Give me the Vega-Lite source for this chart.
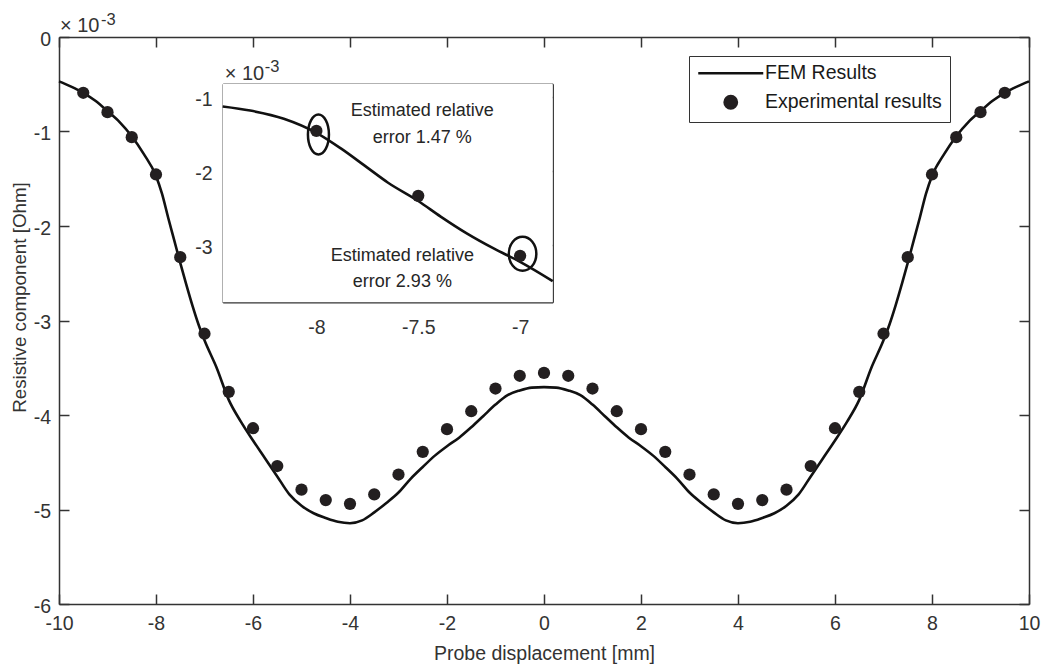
{
  "$schema": "https://vega.github.io/schema/vega-lite/v6.json",
  "width": 970,
  "height": 567,
  "autosize": {"type": "none"},
  "padding": {"left": 59, "top": 37, "right": 15, "bottom": 62},
  "background": "white",
  "config": {
    "font": "Liberation Sans",
    "view": {"stroke": null},
    "axis": {
      "grid": false,
      "domainColor": "#333333",
      "domainWidth": 1.5,
      "tickColor": "#333333",
      "tickWidth": 1.5,
      "tickSize": -10,
      "labelFont": "Liberation Sans",
      "labelFontSize": 19.5,
      "labelColor": "#333333",
      "labelFlush": false,
      "labelOverlap": false,
      "labelBound": false,
      "titleFont": "Liberation Sans",
      "titleFontSize": 19.5,
      "titleFontWeight": "normal",
      "titleColor": "#333333"
    }
  },
  "datasets": {
    "fem": [
      {"x": -10, "y": -0.47}, {"x": -9.75, "y": -0.525}, {"x": -9.5, "y": -0.59}, {"x": -9.25, "y": -0.675},
      {"x": -9, "y": -0.785}, {"x": -8.75, "y": -0.9}, {"x": -8.5, "y": -1.05}, {"x": -8.25, "y": -1.24},
      {"x": -8, "y": -1.47}, {"x": -7.875, "y": -1.66}, {"x": -7.75, "y": -1.91}, {"x": -7.625, "y": -2.15},
      {"x": -7.5, "y": -2.39}, {"x": -7.375, "y": -2.62}, {"x": -7.25, "y": -2.84}, {"x": -7.125, "y": -3.04},
      {"x": -7, "y": -3.21}, {"x": -6.75, "y": -3.5}, {"x": -6.5, "y": -3.84}, {"x": -6.25, "y": -4.07},
      {"x": -6, "y": -4.27}, {"x": -5.75, "y": -4.46}, {"x": -5.5, "y": -4.65}, {"x": -5.25, "y": -4.84},
      {"x": -5, "y": -4.96}, {"x": -4.75, "y": -5.04}, {"x": -4.5, "y": -5.09}, {"x": -4.25, "y": -5.13},
      {"x": -4, "y": -5.145}, {"x": -3.75, "y": -5.115}, {"x": -3.5, "y": -5.03}, {"x": -3.25, "y": -4.93},
      {"x": -3, "y": -4.82}, {"x": -2.75, "y": -4.675}, {"x": -2.5, "y": -4.55}, {"x": -2.25, "y": -4.43},
      {"x": -2, "y": -4.33}, {"x": -1.75, "y": -4.24}, {"x": -1.5, "y": -4.13}, {"x": -1.25, "y": -4.01},
      {"x": -1, "y": -3.89}, {"x": -0.75, "y": -3.79}, {"x": -0.5, "y": -3.74}, {"x": -0.25, "y": -3.71},
      {"x": 0, "y": -3.705},
      {"x": 0.25, "y": -3.71}, {"x": 0.5, "y": -3.74}, {"x": 0.75, "y": -3.79}, {"x": 1, "y": -3.89},
      {"x": 1.25, "y": -4.01}, {"x": 1.5, "y": -4.13}, {"x": 1.75, "y": -4.24}, {"x": 2, "y": -4.33},
      {"x": 2.25, "y": -4.43}, {"x": 2.5, "y": -4.55}, {"x": 2.75, "y": -4.675}, {"x": 3, "y": -4.82},
      {"x": 3.25, "y": -4.93}, {"x": 3.5, "y": -5.03}, {"x": 3.75, "y": -5.115}, {"x": 4, "y": -5.145},
      {"x": 4.25, "y": -5.13}, {"x": 4.5, "y": -5.09}, {"x": 4.75, "y": -5.04}, {"x": 5, "y": -4.96},
      {"x": 5.25, "y": -4.84}, {"x": 5.5, "y": -4.65}, {"x": 5.75, "y": -4.46}, {"x": 6, "y": -4.27},
      {"x": 6.25, "y": -4.07}, {"x": 6.5, "y": -3.84}, {"x": 6.75, "y": -3.5}, {"x": 7, "y": -3.21},
      {"x": 7.125, "y": -3.04}, {"x": 7.25, "y": -2.84}, {"x": 7.375, "y": -2.62}, {"x": 7.5, "y": -2.39},
      {"x": 7.625, "y": -2.15}, {"x": 7.75, "y": -1.91}, {"x": 7.875, "y": -1.66}, {"x": 8, "y": -1.47},
      {"x": 8.25, "y": -1.24}, {"x": 8.5, "y": -1.05}, {"x": 8.75, "y": -0.9}, {"x": 9, "y": -0.785},
      {"x": 9.25, "y": -0.675}, {"x": 9.5, "y": -0.59}, {"x": 9.75, "y": -0.525}, {"x": 10, "y": -0.47}
    ],
    "exp": [
      {"x": -9.5, "y": -0.59}, {"x": -9, "y": -0.795}, {"x": -8.5, "y": -1.06}, {"x": -8, "y": -1.455},
      {"x": -7.5, "y": -2.33}, {"x": -7, "y": -3.14}, {"x": -6.5, "y": -3.755}, {"x": -6, "y": -4.14},
      {"x": -5.5, "y": -4.54}, {"x": -5, "y": -4.79}, {"x": -4.5, "y": -4.9}, {"x": -4, "y": -4.94},
      {"x": -3.5, "y": -4.84}, {"x": -3, "y": -4.63}, {"x": -2.5, "y": -4.39}, {"x": -2, "y": -4.15},
      {"x": -1.5, "y": -3.96}, {"x": -1, "y": -3.72}, {"x": -0.5, "y": -3.585}, {"x": 0, "y": -3.555},
      {"x": 0.5, "y": -3.585}, {"x": 1, "y": -3.72}, {"x": 1.5, "y": -3.96}, {"x": 2, "y": -4.15},
      {"x": 2.5, "y": -4.39}, {"x": 3, "y": -4.63}, {"x": 3.5, "y": -4.84}, {"x": 4, "y": -4.94},
      {"x": 4.5, "y": -4.9}, {"x": 5, "y": -4.79}, {"x": 5.5, "y": -4.54}, {"x": 6, "y": -4.14},
      {"x": 6.5, "y": -3.755}, {"x": 7, "y": -3.14}, {"x": 7.5, "y": -2.33}, {"x": 8, "y": -1.455},
      {"x": 8.5, "y": -1.06}, {"x": 9, "y": -0.795}, {"x": 9.5, "y": -0.59}
    ],
    "inset_fem": [
      {"x": -8.46, "y": -1.125}, {"x": -8.325, "y": -1.18}, {"x": -8.16, "y": -1.29}, {"x": -8.0, "y": -1.48},
      {"x": -7.88, "y": -1.69}, {"x": -7.75, "y": -1.95}, {"x": -7.65, "y": -2.15}, {"x": -7.5, "y": -2.4},
      {"x": -7.39, "y": -2.61}, {"x": -7.26, "y": -2.84}, {"x": -7.13, "y": -3.04}, {"x": -7.0, "y": -3.22},
      {"x": -6.84, "y": -3.48}
    ],
    "notes": [
      {"x": -7.48, "y": -1.19, "label": "Estimated relative\nerror 1.47 %"},
      {"x": -7.578, "y": -3.136, "label": "Estimated relative\nerror 2.93 %"}
    ]
  },
  "layer": [
    {
      "layer": [
        {
          "data": {"name": "fem"},
          "mark": {"type": "line", "strokeWidth": 2.6, "interpolate": "monotone"},
          "encoding": {
            "x": {
              "field": "x", "type": "quantitative",
              "scale": {"domain": [-10, 10], "nice": false, "zero": false},
              "axis": {"orient": "bottom", "values": [-10, -8, -6, -4, -2, 0, 2, 4, 6, 8, 10], "labelExpr": "'' + datum.value", "labelPadding": 20.5, "title": "Probe displacement [mm]", "titleY": 55, "titleBaseline": "alphabetic"}
            },
            "y": {
              "field": "y", "type": "quantitative",
              "scale": {"domain": [-6, 0], "nice": false, "zero": false},
              "axis": {"orient": "left", "values": [-6, -5, -4, -3, -2, -1, 0], "labelExpr": "'' + datum.value", "labelPadding": 18.5, "labelOffset": 2, "title": "Resistive component [Ohm]", "titleFontSize": 18.8, "titleX": -34, "titleY": 260, "titleBaseline": "alphabetic"}
            },
            "color": {
              "datum": "FEM Results", "type": "nominal",
              "scale": {"domain": ["FEM Results", "Experimental results"], "range": ["#111111", "#231f20"]},
              "legend": {
                "orient": "none", "legendX": 630, "legendY": 19, "title": null, "padding": 7.5,
                "strokeColor": "#333333", "fillColor": "white",
                "labelFont": "Liberation Sans", "labelFontSize": 19.5, "labelColor": "#1a1a1a", "labelLimit": 400,
                "symbolSize": 150, "symbolOffset": 24.5, "labelOffset": 24.5, "rowPadding": 7, "symbolStrokeWidth": 2.5,
                "encode": {
                  "symbols": {
                    "update": {
                      "shape": {"signal": "datum.value === 'FEM Results' ? 'stroke' : 'circle'"},
                      "size": {"signal": "datum.value === 'FEM Results' ? 4225 : 150"},
                      "stroke": {"value": "#111111"},
                      "fill": {"value": "#231f20"},
                      "strokeWidth": {"value": 2.6}
                    }
                  }
                }
              }
            }
          }
        },
        {
          "data": {"name": "exp"},
          "mark": {"type": "point", "filled": true, "shape": "circle", "size": 150, "opacity": 1},
          "encoding": {
            "x": {"field": "x", "type": "quantitative", "axis": {"orient": "top", "values": [-10, -8, -6, -4, -2, 0, 2, 4, 6, 8, 10], "labels": false, "title": null}},
            "y": {"field": "y", "type": "quantitative", "axis": {"orient": "right", "values": [-6, -5, -4, -3, -2, -1, 0], "labels": false, "title": null}},
            "color": {"datum": "Experimental results", "type": "nominal"}
          }
        },
        {
          "data": {"values": [{}]},
          "mark": {"type": "text", "text": "× 10", "align": "left", "baseline": "alphabetic", "fontSize": 20, "dx": 1, "dy": -5, "color": "#333333"},
          "encoding": {
            "x": {"datum": -10, "type": "quantitative", "axis": null},
            "y": {"datum": 0, "type": "quantitative", "axis": null}
          }
        },
        {
          "data": {"values": [{}]},
          "mark": {"type": "text", "text": "-3", "align": "left", "baseline": "alphabetic", "fontSize": 16.5, "dx": 42, "dy": -12, "color": "#333333"},
          "encoding": {
            "x": {"datum": -10, "type": "quantitative", "axis": null},
            "y": {"datum": 0, "type": "quantitative", "axis": null}
          }
        }
      ],
      "resolve": {"axis": {"x": "independent", "y": "independent"}}
    },
    {
      "layer": [
        {
          "data": {"values": [{}]},
          "mark": {"type": "rect", "fill": "white"},
          "encoding": {
            "x": {
              "datum": -8.46, "type": "quantitative",
              "scale": {"domain": [-8.46, -6.84], "range": [163.7, 493.7], "nice": false, "zero": false},
              "axis": {"orient": "bottom", "offset": -301.8, "values": [-8, -7.5, -7], "labelExpr": "'' + datum.value", "labelPadding": 26.5, "title": null}
            },
            "x2": {"datum": -6.84},
            "y": {
              "datum": -3.765, "type": "quantitative",
              "scale": {"domain": [-3.765, -0.819], "range": [265.2, 46.8], "nice": false, "zero": false},
              "axis": {"orient": "left", "offset": -163.7, "values": [-3, -2, -1], "labelExpr": "'' + datum.value", "labelPadding": 20.5, "labelOffset": 2, "title": null}
            },
            "y2": {"datum": -0.819}
          }
        },
        {
          "data": {"name": "inset_fem"},
          "mark": {"type": "line", "strokeWidth": 2.6, "color": "#111111", "interpolate": "monotone"},
          "encoding": {
            "x": {"field": "x", "type": "quantitative", "axis": {"orient": "top", "offset": -46.8, "values": [-8, -7.5, -7], "labels": false, "title": null}},
            "y": {"field": "y", "type": "quantitative", "axis": {"orient": "right", "offset": -476.3, "values": [-3, -2, -1], "labels": false, "title": null}}
          }
        },
        {
          "data": {"name": "exp"},
          "transform": [{"filter": {"field": "x", "range": [-8.4, -6.9]}}],
          "mark": {"type": "point", "filled": true, "shape": "circle", "size": 150, "opacity": 1, "color": "#231f20"},
          "encoding": {
            "x": {"field": "x", "type": "quantitative", "axis": null},
            "y": {"field": "y", "type": "quantitative", "axis": null}
          }
        },
        {
          "data": {"values": [{"x": -7.99, "y": -1.503}]},
          "mark": {"type": "point", "shape": "M0,-1A0.525,1,0,1,1,0,1A0.525,1,0,1,1,0,-1Z", "size": 1600, "filled": false, "stroke": "#111111", "strokeWidth": 2.5, "opacity": 1},
          "encoding": {
            "x": {"field": "x", "type": "quantitative", "axis": null},
            "y": {"field": "y", "type": "quantitative", "axis": null}
          }
        },
        {
          "data": {"values": [{"x": -6.988, "y": -3.112}]},
          "mark": {"type": "point", "shape": "M0,-1A0.81,1,0,1,1,0,1A0.81,1,0,1,1,0,-1Z", "size": 1156, "filled": false, "stroke": "#111111", "strokeWidth": 2.5, "opacity": 1},
          "encoding": {
            "x": {"field": "x", "type": "quantitative", "axis": null},
            "y": {"field": "y", "type": "quantitative", "axis": null}
          }
        },
        {
          "data": {"name": "notes"},
          "mark": {"type": "text", "fontSize": 18, "lineBreak": "\n", "lineHeight": 26.7, "align": "center", "baseline": "middle", "color": "#262626"},
          "encoding": {
            "x": {"field": "x", "type": "quantitative", "axis": null},
            "y": {"field": "y", "type": "quantitative", "axis": null},
            "text": {"field": "label", "type": "nominal"}
          }
        },
        {
          "data": {"values": [{}]},
          "mark": {"type": "text", "text": "× 10", "align": "left", "baseline": "alphabetic", "fontSize": 20, "dx": 2, "dy": -4, "color": "#333333"},
          "encoding": {
            "x": {"datum": -8.46, "type": "quantitative", "axis": null},
            "y": {"datum": -0.819, "type": "quantitative", "axis": null}
          }
        },
        {
          "data": {"values": [{}]},
          "mark": {"type": "text", "text": "-3", "align": "left", "baseline": "alphabetic", "fontSize": 16.5, "dx": 42, "dy": -12, "color": "#333333"},
          "encoding": {
            "x": {"datum": -8.46, "type": "quantitative", "axis": null},
            "y": {"datum": -0.819, "type": "quantitative", "axis": null}
          }
        }
      ],
      "resolve": {"axis": {"x": "independent", "y": "independent"}}
    }
  ],
  "resolve": {"scale": {"x": "independent", "y": "independent"}}
}
